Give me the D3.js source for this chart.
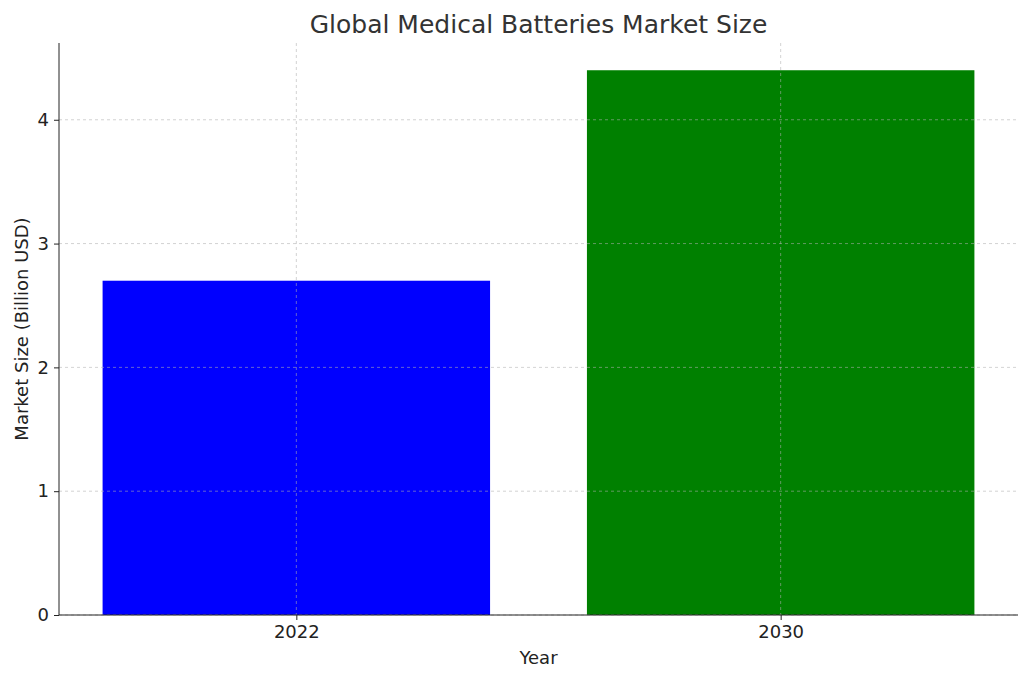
<!DOCTYPE html>
<html><head><meta charset="utf-8">
<script src="https://cdn.jsdelivr.net/npm/d3@7"></script>
<style>body{margin:0;background:#fff}text{font-family:"DejaVu Sans",sans-serif}</style>
</head><body><svg id="c" width="1030" height="681"></svg>
<script>
const categories = ["2022", "2030"];
const values = [2.7, 4.4];
const colors = ["#0000ff", "#008000"];
const yTicks = [0, 1, 2, 3, 4];

const svg = d3.select("#c");
const L = 59, R = 1018, T = 43, B = 615;
const x = d3.scaleLinear().domain([-0.49, 1.49]).range([L, R]);
const y = d3.scaleLinear().domain([0, 4.62]).range([B, T]);

svg.selectAll("rect.bar").data(values).join("rect")
  .attr("x", (d, i) => x(i - 0.4)).attr("width", (d, i) => x(i + 0.4) - x(i - 0.4))
  .attr("y", d => y(d)).attr("height", d => B - y(d)).attr("fill", (d, i) => colors[i]);

const g = svg.append("g");
yTicks.forEach(t => g.append("line").attr("x1", L).attr("x2", R).attr("y1", y(t)).attr("y2", y(t))
  .attr("stroke", "#b0b0b0").attr("stroke-opacity", 0.7).attr("stroke-dasharray", "3,3").attr("stroke-width", 0.8));
categories.forEach((c, i) => g.append("line").attr("x1", x(i)).attr("x2", x(i)).attr("y1", T).attr("y2", B)
  .attr("stroke", "#b0b0b0").attr("stroke-opacity", 0.7).attr("stroke-dasharray", "3,3").attr("stroke-width", 0.8));

const yAxis = svg.append("g").attr("transform", `translate(${L},0)`)
  .call(d3.axisLeft(y).tickValues(yTicks).tickFormat(d3.format("d")).tickSize(5).tickPadding(5));
const xAxis = svg.append("g").attr("transform", `translate(0,${B})`)
  .call(d3.axisBottom(x).tickValues([0, 1]).tickFormat(i => categories[i]).tickSize(5).tickPadding(5));
[yAxis, xAxis].forEach(a => {
  a.selectAll("text").attr("font-size", 18).attr("fill", "#222").style("font-family", "DejaVu Sans");
  a.select(".domain").attr("stroke", "#222");
  a.selectAll(".tick line").attr("stroke", "#222");
});
xAxis.select(".domain").attr("d", `M${L},0H${R}`);
yAxis.select(".domain").attr("d", `M0,${B}V${T}`);

svg.append("text").attr("x", (L + R) / 2).attr("y", 33).attr("text-anchor", "middle")
  .attr("font-size", 25).attr("fill", "#333").text("Global Medical Batteries Market Size");
svg.append("text").attr("x", (L + R) / 2).attr("y", 664).attr("text-anchor", "middle")
  .attr("font-size", 18).attr("fill", "#222").text("Year");
svg.append("text").attr("transform", `translate(28,${(T + B) / 2}) rotate(-90)`).attr("text-anchor", "middle")
  .attr("font-size", 18).attr("fill", "#222").text("Market Size (Billion USD)");
</script></body></html>
